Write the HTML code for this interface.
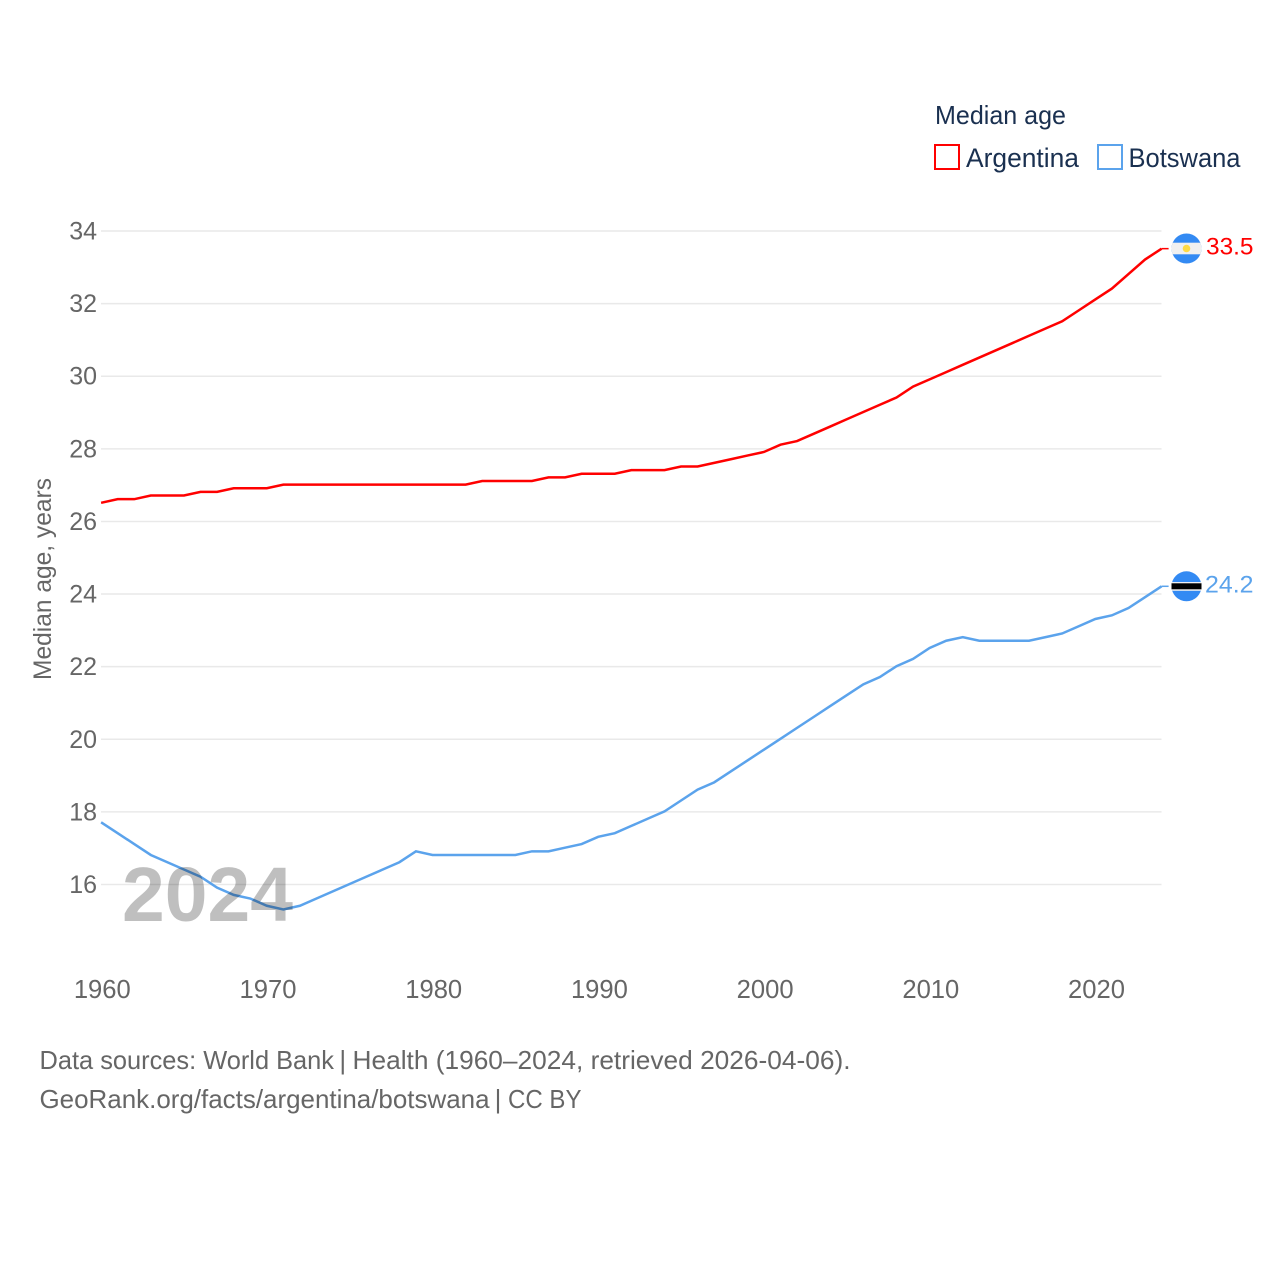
<!DOCTYPE html>
<html lang="en">
<head>
<meta charset="utf-8">
<title>Median age: Argentina and Botswana</title>
<style>
html,body{margin:0;padding:0;background:#fff;}
svg{display:block;}
text{font-family:"Liberation Sans",sans-serif;}
</style>
</head>
<body>
<svg id="chart" width="1280" height="1280" viewBox="0 0 1280 1280" xmlns="http://www.w3.org/2000/svg">
  <defs>
    <clipPath id="flag-clip-ar"><circle cx="1186.5" cy="248.5" r="15"/></clipPath>
    <clipPath id="flag-clip-bw"><circle cx="1186.5" cy="586.3" r="15"/></clipPath>
  </defs>
  <g id="grid"></g>
  <g id="y-ticks"></g>
  <g id="x-ticks"></g>
  <g id="series" transform="translate(-0.4,-0.5)"></g>

  <text transform="translate(51,680) rotate(-90)" font-size="25" fill="#666" textLength="202" lengthAdjust="spacingAndGlyphs">Median age, years</text>

  <text x="122" y="921" font-size="77" font-weight="bold" fill="#000" fill-opacity="0.25" textLength="171" lengthAdjust="spacingAndGlyphs">2024</text>

  <g>
    <text x="935" y="124" font-size="26" fill="#1a3050" textLength="131" lengthAdjust="spacingAndGlyphs">Median age</text>
    <g>
      <rect x="935" y="145" width="24" height="24" fill="none" stroke="#ff0000" stroke-width="2"/>
      <text x="966" y="167" font-size="27" fill="#1a3050" textLength="113" lengthAdjust="spacingAndGlyphs">Argentina</text>
    </g>
    <g>
      <rect x="1098" y="145" width="24" height="24" fill="none" stroke="#5ba3ec" stroke-width="2"/>
      <text x="1128.5" y="167" font-size="27" fill="#1a3050" textLength="112" lengthAdjust="spacingAndGlyphs">Botswana</text>
    </g>
  </g>

  <g clip-path="url(#flag-clip-ar)">
    <rect x="1171" y="233" width="31" height="31" fill="#338af3"/>
    <rect x="1171" y="242.7" width="31" height="11.6" fill="#f0f0f0"/>
    <circle cx="1186.5" cy="248.5" r="3.8" fill="#ffda44"/>
  </g>
  <g>
    <g clip-path="url(#flag-clip-bw)">
      <rect x="1171" y="571" width="31" height="31" fill="#338af3"/>
      <rect x="1171" y="582" width="31" height="8.8" fill="#f0f0f0"/>
    </g>
    <rect x="1171.5" y="583.3" width="30" height="6" fill="#000"/>
  </g>

  <text x="1206" y="254.5" font-size="24.5" fill="#ff0000" textLength="47.5" lengthAdjust="spacingAndGlyphs">33.5</text>
  <text x="1205" y="592.5" font-size="24.5" fill="#5ba3ec" textLength="48.5" lengthAdjust="spacingAndGlyphs">24.2</text>

  <g>
    <text y="1069" font-size="26" fill="#666"><tspan x="39.5" textLength="294.5" lengthAdjust="spacingAndGlyphs">Data sources: World Bank</tspan><tspan x="332.2"> | </tspan><tspan x="352.5" textLength="498" lengthAdjust="spacingAndGlyphs">Health (1960–2024, retrieved 2026-04-06).</tspan></text>
    <text y="1108" font-size="26" fill="#666"><tspan x="39.5" textLength="450" lengthAdjust="spacingAndGlyphs">GeoRank.org/facts/argentina/botswana</tspan><tspan x="487.4"> | </tspan><tspan x="508" textLength="73.5" lengthAdjust="spacingAndGlyphs">CC BY</tspan></text>
  </g>
</svg>
<script>
const years = [1960,1961,1962,1963,1964,1965,1966,1967,1968,1969,1970,1971,1972,1973,1974,1975,1976,1977,1978,1979,1980,1981,1982,1983,1984,1985,1986,1987,1988,1989,1990,1991,1992,1993,1994,1995,1996,1997,1998,1999,2000,2001,2002,2003,2004,2005,2006,2007,2008,2009,2010,2011,2012,2013,2014,2015,2016,2017,2018,2019,2020,2021,2022,2023,2024];
const argentinaValues = [26.5,26.6,26.6,26.7,26.7,26.7,26.8,26.8,26.9,26.9,26.9,27.0,27.0,27.0,27.0,27.0,27.0,27.0,27.0,27.0,27.0,27.0,27.0,27.1,27.1,27.1,27.1,27.2,27.2,27.3,27.3,27.3,27.4,27.4,27.4,27.5,27.5,27.6,27.7,27.8,27.9,28.1,28.2,28.4,28.6,28.8,29.0,29.2,29.4,29.7,29.9,30.1,30.3,30.5,30.7,30.9,31.1,31.3,31.5,31.8,32.1,32.4,32.8,33.2,33.5];
const botswanaValues = [17.7,17.4,17.1,16.8,16.6,16.4,16.2,15.9,15.7,15.6,15.4,15.3,15.4,15.6,15.8,16.0,16.2,16.4,16.6,16.9,16.8,16.8,16.8,16.8,16.8,16.8,16.9,16.9,17.0,17.1,17.3,17.4,17.6,17.8,18.0,18.3,18.6,18.8,19.1,19.4,19.7,20.0,20.3,20.6,20.9,21.2,21.5,21.7,22.0,22.2,22.5,22.7,22.8,22.7,22.7,22.7,22.7,22.8,22.9,23.1,23.3,23.4,23.6,23.9,24.2];
const yTickValues = [16,18,20,22,24,26,28,30,32,34];
const xTickValues = [1960,1970,1980,1990,2000,2010,2020];

const NS = 'http://www.w3.org/2000/svg';
function xScale(year) { return 101.5 + (year - 1960) * (1162 - 101.5) / 64; }
function yScale(value) { return 231 + (34 - value) * (884.5 - 231) / 18; }

const grid = document.getElementById('grid');
const yTicks = document.getElementById('y-ticks');
yTickValues.forEach(function (v) {
  const line = document.createElementNS(NS, 'line');
  
  
  line.setAttribute('x1', 101);
  line.setAttribute('x2', 1161.5);
  line.setAttribute('y1', yScale(v));
  line.setAttribute('y2', yScale(v));
  line.setAttribute('stroke', '#e9e9e9');
  line.setAttribute('stroke-width', '1.5');
  grid.appendChild(line);

  const label = document.createElementNS(NS, 'text');
  
  
  label.setAttribute('x', 97);
  label.setAttribute('y', yScale(v) + 8.5);
  label.setAttribute('text-anchor', 'end');
  label.setAttribute('font-size', '25');
  label.setAttribute('fill', '#666');
  label.textContent = String(v);
  yTicks.appendChild(label);
});

const xTicks = document.getElementById('x-ticks');
xTickValues.forEach(function (year) {
  const label = document.createElementNS(NS, 'text');
  
  
  label.setAttribute('x', xScale(year) + 0.8);
  label.setAttribute('y', 998);
  label.setAttribute('text-anchor', 'middle');
  label.setAttribute('font-size', '25.6');
  label.setAttribute('fill', '#666');
  label.textContent = String(year);
  xTicks.appendChild(label);
});

function pointsFor(values) {
  return values.map(function (v, i) {
    return xScale(years[i]).toFixed(2) + ',' + yScale(v).toFixed(2);
  }).join(' ');
}

const seriesGroup = document.getElementById('series');

const argentinaLine = document.createElementNS(NS, 'polyline');


argentinaLine.setAttribute('points', pointsFor(argentinaValues));
argentinaLine.setAttribute('fill', 'none');
argentinaLine.setAttribute('stroke', '#ff0000');
argentinaLine.setAttribute('stroke-width', '2.5');
seriesGroup.appendChild(argentinaLine);

const argentinaConnector = document.createElementNS(NS, 'line');


argentinaConnector.setAttribute('x1', xScale(2024));
argentinaConnector.setAttribute('x2', 1169);
argentinaConnector.setAttribute('y1', yScale(argentinaValues[argentinaValues.length - 1]));
argentinaConnector.setAttribute('y2', yScale(argentinaValues[argentinaValues.length - 1]));
argentinaConnector.setAttribute('stroke', '#ff0000');
argentinaConnector.setAttribute('stroke-width', '1.5');
seriesGroup.appendChild(argentinaConnector);

const botswanaLine = document.createElementNS(NS, 'polyline');


botswanaLine.setAttribute('points', pointsFor(botswanaValues));
botswanaLine.setAttribute('fill', 'none');
botswanaLine.setAttribute('stroke', '#5ba3ec');
botswanaLine.setAttribute('stroke-width', '2.5');
seriesGroup.appendChild(botswanaLine);

const botswanaConnector = document.createElementNS(NS, 'line');


botswanaConnector.setAttribute('x1', xScale(2024));
botswanaConnector.setAttribute('x2', 1169);
botswanaConnector.setAttribute('y1', yScale(botswanaValues[botswanaValues.length - 1]));
botswanaConnector.setAttribute('y2', yScale(botswanaValues[botswanaValues.length - 1]));
botswanaConnector.setAttribute('stroke', '#5ba3ec');
botswanaConnector.setAttribute('stroke-width', '1.5');
seriesGroup.appendChild(botswanaConnector);
</script>
</body>
</html>
